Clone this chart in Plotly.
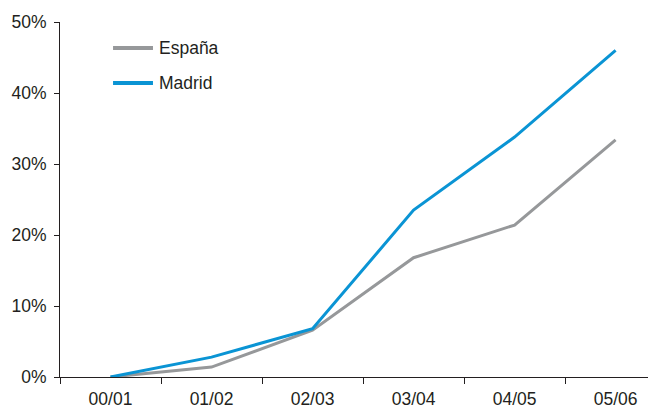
import plotly.graph_objects as go

categories = ["00/01", "01/02", "02/03", "03/04", "04/05", "05/06"]
espana = [0.0, 1.4, 6.6, 16.8, 21.4, 33.4]
madrid = [0.0, 2.8, 6.8, 23.5, 33.8, 46.0]
y_ticks = [0, 10, 20, 30, 40, 50]
y_tick_labels = ["0%", "10%", "20%", "30%", "40%", "50%"]
series_names = ["España", "Madrid"]
series_colors = ["#96989a", "#0a94d4"]

FONT = "Liberation Sans, Arial, sans-serif"

fig = go.Figure()
for name, vals, col in zip(series_names, [espana, madrid], series_colors):
    fig.add_trace(go.Scatter(x=categories, y=vals, mode="lines", name=name,
                             line=dict(color=col, width=3), showlegend=False))

# custom legend (line sample + label)
legend_y = [0.927, 0.828]
for name, col, ly in zip(series_names, series_colors, legend_y):
    fig.add_shape(type="line", xref="paper", yref="paper",
                  x0=0.089, x1=0.156, y0=ly, y1=ly,
                  line=dict(color=col, width=4))
    fig.add_annotation(xref="paper", yref="paper", x=0.163, y=ly,
                       text=name, showarrow=False, xanchor="left",
                       yanchor="middle", font=dict(size=17.5, color="#231f20"))

fig.update_layout(
    width=656, height=411,
    margin=dict(l=52, r=8, t=14, b=42),
    paper_bgcolor="white", plot_bgcolor="white",
    font=dict(family=FONT, size=17.5, color="#231f20"),
    showlegend=False,
    xaxis=dict(type="category", range=[-0.5, 5.4], showgrid=False,
               showline=True, linecolor="#231f20", linewidth=1,
               ticks="outside", tickson="boundaries", ticklen=6,
               tickcolor="#231f20", zeroline=False, fixedrange=True,
               automargin=False, ticklabelstandoff=6),
    yaxis=dict(range=[0, 50], tickvals=y_ticks, ticktext=y_tick_labels,
               showgrid=False, showline=True, linecolor="#231f20", linewidth=1,
               ticks="outside", ticklen=5, tickcolor="#231f20",
               zeroline=False, fixedrange=True, automargin=False,
               ticklabelstandoff=4),
)

fig.write_html("out.html")
